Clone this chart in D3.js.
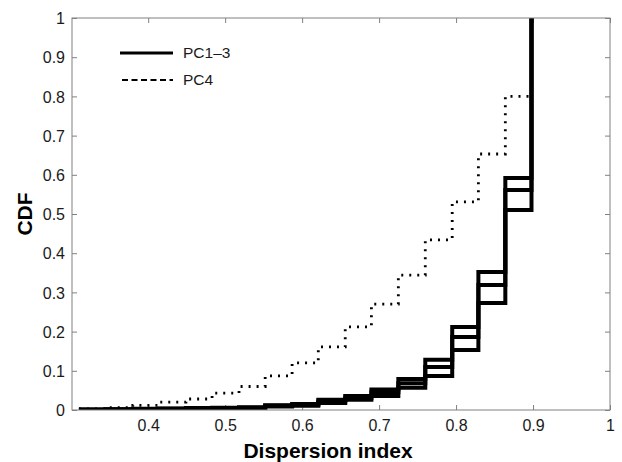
<!DOCTYPE html>
<html>
<head>
<meta charset="utf-8">
<script src="https://cdn.jsdelivr.net/npm/d3@7"></script>
<style>
  body { margin: 0; background: #fff; }
  svg { font-family: "Liberation Sans", Arial, sans-serif; }
  .axis text { fill: #1a1a1a; font-size: 16px; }
  .axis line { stroke: #808080; }
  .axis path { display: none; }
</style>
</head>
<body>
<div id="chart"></div>
<script>
// bin edges of the stair curves (dispersion index)
var edges = [0.310, 0.345, 0.380, 0.414, 0.449, 0.483, 0.518, 0.552, 0.587,
             0.621, 0.656, 0.690, 0.725, 0.760, 0.795, 0.829, 0.864, 0.898];

// PC1-3 (three solid curves)
var pc1 = [0.001, 0.002, 0.003, 0.004, 0.005, 0.006, 0.007, 0.012, 0.015,
           0.026, 0.036, 0.052, 0.079, 0.128, 0.212, 0.352, 0.592, 1];
var pc2 = [0.001, 0.001, 0.002, 0.003, 0.004, 0.005, 0.006, 0.011, 0.013,
           0.022, 0.031, 0.045, 0.068, 0.110, 0.186, 0.319, 0.561, 1];
var pc3 = [0.000, 0.001, 0.001, 0.002, 0.003, 0.004, 0.005, 0.009, 0.011,
           0.018, 0.026, 0.036, 0.057, 0.087, 0.153, 0.273, 0.510, 1];

// PC4 (dashed curve)
var pc4 = [0.003, 0.006, 0.012, 0.020, 0.028, 0.043, 0.060, 0.087, 0.120,
           0.161, 0.212, 0.270, 0.344, 0.434, 0.531, 0.653, 0.800, 1];

var xTicks = [0.4, 0.5, 0.6, 0.7, 0.8, 0.9, 1];
var yTicks = [0, 0.1, 0.2, 0.3, 0.4, 0.5, 0.6, 0.7, 0.8, 0.9, 1];
var legendLabels = ["PC1\u20133", "PC4"];

var W = 622, H = 462;
var margin = {top: 18, right: 12, bottom: 52, left: 72};
var width = W - margin.left - margin.right;
var height = H - margin.top - margin.bottom;

var svg = d3.select("#chart").append("svg")
    .attr("width", W)
    .attr("height", H)
  .append("g")
    .attr("transform", "translate(" + margin.left + "," + margin.top + ")");

var x = d3.scaleLinear().domain([0.301, 1]).range([0, width]);
var y = d3.scaleLinear().domain([0, 1]).range([height, 0]);

// axes (ticks point inward, like matlab)
svg.append("g")
    .attr("class", "axis")
    .attr("transform", "translate(0," + height + ")")
    .call(d3.axisBottom(x).tickValues(xTicks).tickSize(-5).tickPadding(9.6)
        .tickFormat(d3.format("")));
svg.append("g")
    .attr("class", "axis")
    .call(d3.axisLeft(y).tickValues(yTicks).tickSize(-5).tickPadding(7)
        .tickFormat(d3.format("")));
svg.append("g")
    .attr("class", "axis")
    .call(d3.axisTop(x).tickValues(xTicks).tickSize(-5).tickFormat(""));
svg.append("g")
    .attr("class", "axis")
    .attr("transform", "translate(" + width + ",0)")
    .call(d3.axisRight(y).tickValues(yTicks).tickSize(-5).tickFormat(""));

svg.selectAll(".axis .tick text").attr("dy", function() {
  return d3.select(this.parentNode.parentNode).attr("transform") ? "0.71em" : "0.35em";
});

var clip = svg.append("clipPath").attr("id", "clip")
  .append("rect").attr("x", 0).attr("y", -3).attr("width", width).attr("height", height + 3);

var line = d3.line()
    .x(function(d) { return x(d[0]); })
    .y(function(d) { return y(d[1]); })
    .curve(d3.curveStepAfter);

var plot = svg.append("g").attr("clip-path", "url(#clip)");

plot.append("path")
    .datum(d3.zip(edges, pc4))
    .attr("d", line)
    .style("fill", "none")
    .style("stroke", "#000")
    .style("stroke-width", 2.8)
    .style("stroke-dasharray", "2,6");

[pc3, pc2, pc1].forEach(function(s) {
  plot.append("path")
      .datum(d3.zip(edges, s))
      .attr("d", line)
      .style("fill", "none")
      .style("stroke", "#000")
      .style("stroke-width", 4)
      .style("stroke-linejoin", "miter");
});

// box
svg.append("rect")
    .attr("width", width)
    .attr("height", height)
    .style("fill", "none")
    .style("stroke", "#808080")
    .style("stroke-width", 1);

// legend
var legend = svg.append("g").attr("transform", "translate(48,35)");
legend.append("line")
    .attr("x1", 0).attr("x2", 53).attr("y1", 0).attr("y2", 0)
    .style("stroke", "#000").style("stroke-width", 3);
legend.append("line")
    .attr("x1", 2).attr("x2", 53).attr("y1", 27).attr("y2", 27)
    .style("stroke", "#000").style("stroke-width", 2)
    .style("stroke-dasharray", "6,3.5");
legend.selectAll("text.leg")
    .data(legendLabels)
    .enter()
    .append("text")
    .attr("class", "leg")
    .attr("x", 63)
    .attr("y", function(d, i) { return i * 27; })
    .attr("dy", "0.35em")
    .style("font-size", "15.5px")
    .style("fill", "#1a1a1a")
    .text(function(d) { return d; });

// axis titles
svg.append("text")
    .attr("x", 256)
    .attr("y", H - margin.top - 4)
    .style("text-anchor", "middle")
    .style("font-size", "21px")
    .style("font-weight", "bold")
    .text("Dispersion index");

svg.append("text")
    .attr("transform", "rotate(-90)")
    .attr("x", -height / 2)
    .attr("y", -47)
    .attr("dy", "0.35em")
    .style("text-anchor", "middle")
    .style("font-size", "21px")
    .style("font-weight", "bold")
    .text("CDF");
</script>
</body>
</html>
